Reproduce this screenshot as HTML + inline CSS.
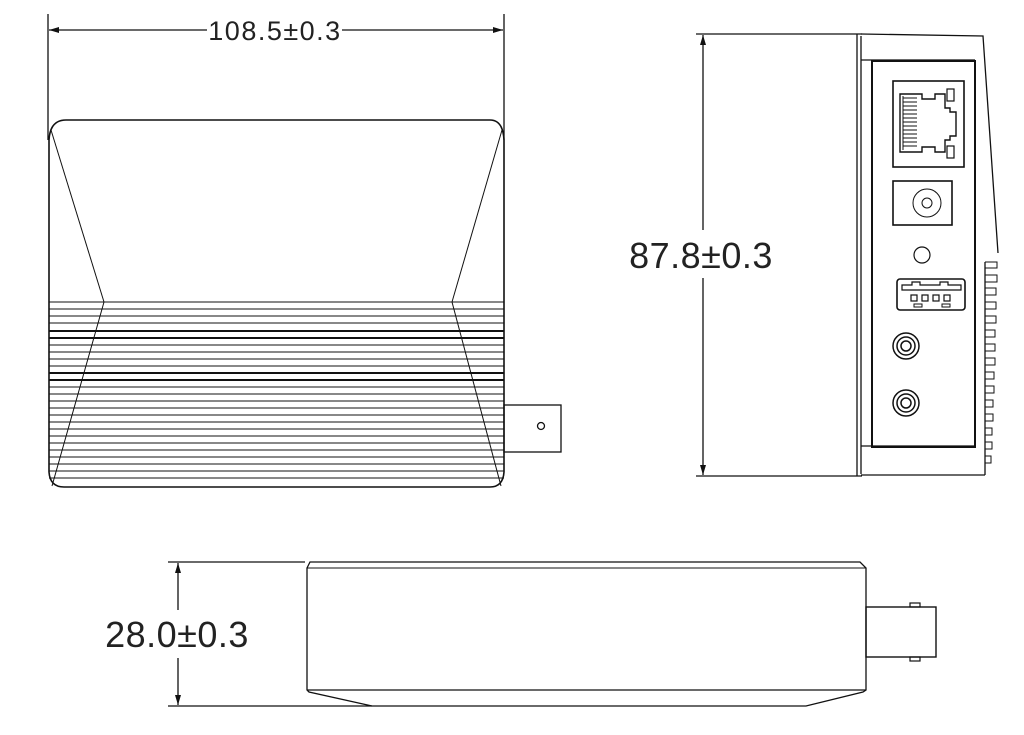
<!DOCTYPE html>
<html><head><meta charset="utf-8"><style>
html,body{margin:0;padding:0;background:#fff;}
svg{display:block;}
text{font-family:"Liberation Sans",sans-serif;fill:#222;}
</style></head><body>
<svg width="1024" height="735" viewBox="0 0 1024 735" xmlns="http://www.w3.org/2000/svg">
<defs>
<marker id="ar" viewBox="0 0 10 6" refX="10" refY="3" markerWidth="10" markerHeight="6" orient="auto-start-reverse" markerUnits="userSpaceOnUse">
<path d="M0,0 L10,3 L0,6 Z" fill="#111"/></marker>
</defs>
<g stroke="#111" fill="none" stroke-width="1.3">
<line x1="48" y1="14" x2="48" y2="140"/>
<line x1="504" y1="14" x2="504" y2="140"/>
<line x1="49" y1="30" x2="207" y2="30" marker-start="url(#ar)"/>
<line x1="342" y1="30" x2="503" y2="30" marker-end="url(#ar)"/>
<path d="M49,140 Q50,120 66,120 L490,120 Q503,120 504,140 L504,472 Q503,487 490,487 L64,487 Q50,487 49,472 Z" stroke-width="1.6"/>
<line x1="51" y1="130" x2="104" y2="302" stroke-width="1"/>
<line x1="502" y1="130" x2="452" y2="302" stroke-width="1"/>
<line x1="104" y1="302" x2="52" y2="486" stroke-width="1"/>
<line x1="452" y1="302" x2="501" y2="486" stroke-width="1"/>
<g stroke-width="1">
<line x1="49" y1="302" x2="504" y2="302"/>
<line x1="49" y1="309" x2="504" y2="309"/>
<line x1="49" y1="316" x2="504" y2="316"/>
<line x1="49" y1="323" x2="504" y2="323"/>
<line x1="49" y1="331" x2="504" y2="331" stroke-width="2"/>
<line x1="49" y1="338" x2="504" y2="338" stroke-width="2"/>
<line x1="49" y1="345" x2="504" y2="345"/>
<line x1="49" y1="352" x2="504" y2="352"/>
<line x1="49" y1="359" x2="504" y2="359"/>
<line x1="49" y1="366" x2="504" y2="366"/>
<line x1="49" y1="373" x2="504" y2="373" stroke-width="2"/>
<line x1="49" y1="380" x2="504" y2="380" stroke-width="2"/>
<line x1="49" y1="387" x2="504" y2="387"/>
<line x1="49" y1="394" x2="504" y2="394"/>
<line x1="49" y1="401" x2="504" y2="401"/>
<line x1="49" y1="408" x2="504" y2="408"/>
<line x1="49" y1="415" x2="504" y2="415"/>
<line x1="49" y1="422" x2="504" y2="422"/>
<line x1="49" y1="429" x2="504" y2="429"/>
<line x1="49" y1="436" x2="504" y2="436"/>
<line x1="49" y1="443" x2="504" y2="443"/>
<line x1="49" y1="450" x2="504" y2="450"/>
<line x1="49" y1="457" x2="504" y2="457"/>
<line x1="49" y1="464" x2="504" y2="464"/>
<line x1="49" y1="471" x2="504" y2="471"/>
<line x1="49" y1="478" x2="504" y2="478"/>
</g>
<rect x="504" y="405" width="57" height="47" stroke-width="1.3"/>
<circle cx="541" cy="426" r="3.5"/>

<line x1="696" y1="34" x2="862" y2="34"/>
<line x1="696" y1="476" x2="862" y2="476"/>
<line x1="703" y1="35" x2="703" y2="230" marker-start="url(#ar)"/>
<line x1="703" y1="278" x2="703" y2="475" marker-end="url(#ar)"/>
<line x1="857" y1="34" x2="857" y2="476"/>
<line x1="861" y1="36" x2="861" y2="474"/>
<path d="M861,34 L983,36 L998,253"/>
<line x1="861" y1="60" x2="975" y2="60"/>
<line x1="861" y1="446" x2="975" y2="446"/>
<line x1="861" y1="475" x2="985" y2="475"/>
<line x1="985" y1="262" x2="985" y2="475"/>
<rect x="872" y="61" width="103" height="386" stroke-width="2"/>
<g stroke-width="1">
<path d="M985,262 h12 v6 h-12 M985,275 h12 v7 h-12 M985,288 h11 v7 h-11 M985,302 h11 v7 h-11 M985,316 h11 v7 h-11 M985,330 h10 v7 h-10 M985,344 h10 v7 h-10 M985,358 h10 v7 h-10 M985,372 h9 v7 h-9 M985,386 h9 v7 h-9 M985,400 h8 v7 h-8 M985,414 h8 v7 h-8 M985,428 h7 v7 h-7 M985,442 h7 v7 h-7 M985,456 h6 v7 h-6"/>
</g>
<rect x="893" y="81" width="71" height="86" stroke-width="1.6"/>
<path d="M900,94 L922,94 L922,99 L935,99 L935,94 L945,94 L945,108 L950,108 L950,112 L956,112 L956,136 L950,136 L950,140 L945,140 L945,152 L935,152 L935,147 L922,147 L922,152 L900,152 Z" stroke-width="1.4"/>
<rect x="947" y="89" width="7" height="12" stroke-width="1.2"/>
<rect x="947" y="146" width="7" height="12" stroke-width="1.2"/>
<g stroke-width="1">
<path d="M903,98 h14 M903,102 h14 M903,106 h14 M903,110 h14 M903,114 h14 M903,118 h14 M903,122 h14 M903,126 h14 M903,130 h14 M903,134 h14 M903,138 h14 M903,142 h14 M903,146 h14"/>
<line x1="903" y1="96" x2="903" y2="150"/>
</g>
<rect x="893" y="181" width="59" height="44" stroke-width="1.6"/>
<circle cx="927" cy="203" r="14" stroke-width="1"/>
<circle cx="927" cy="203" r="5" stroke-width="1"/>
<circle cx="922" cy="255" r="8" stroke-width="1.2"/>
<rect x="897" y="279" width="68" height="31" rx="3" stroke-width="1.6"/>
<path d="M902,285 L912,285 L912,282 L920,282 L920,285 L940,285 L940,282 L948,282 L948,285 L961,285 L961,290 L902,290 Z" stroke-width="1.2"/>
<rect x="911" y="295" width="6" height="6" stroke-width="1.2"/>
<rect x="922" y="295" width="6" height="6" stroke-width="1.2"/>
<rect x="933" y="295" width="6" height="6" stroke-width="1.2"/>
<rect x="944" y="295" width="6" height="6" stroke-width="1.2"/>
<rect x="914" y="304" width="8" height="3" stroke-width="1"/>
<rect x="942" y="304" width="8" height="3" stroke-width="1"/>
<circle cx="906" cy="346" r="13" stroke-width="1.5"/>
<circle cx="906" cy="346" r="9" stroke-width="1.5"/>
<circle cx="906" cy="346" r="5" stroke-width="1.5"/>
<circle cx="906" cy="403" r="13" stroke-width="1.5"/>
<circle cx="906" cy="403" r="9" stroke-width="1.5"/>
<circle cx="906" cy="403" r="5" stroke-width="1.5"/>

<line x1="168" y1="562" x2="305" y2="562"/>
<line x1="168" y1="706" x2="372" y2="706"/>
<line x1="178" y1="563" x2="178" y2="610" marker-start="url(#ar)"/>
<line x1="178" y1="658" x2="178" y2="705" marker-end="url(#ar)"/>
<path d="M310,562 L860,562 L866,568 L866,690 L863,692 L806,706 L372,706 L309,692 L307,690 L307,568 Z" stroke-width="1.3"/>
<line x1="307" y1="568" x2="866" y2="568" stroke-width="1"/>
<line x1="307" y1="690" x2="866" y2="690" stroke-width="1.3"/>
<rect x="866" y="607" width="70" height="50" stroke-width="1.4"/>
<rect x="910" y="603" width="10" height="4" stroke-width="1.2"/>
<rect x="910" y="657" width="10" height="4" stroke-width="1.2"/>
</g>
<text x="275" y="40" font-size="27" letter-spacing="1.5" text-anchor="middle">108.5±0.3</text>
<text x="701" y="268" font-size="36" letter-spacing="0.5" text-anchor="middle">87.8±0.3</text>
<text x="177" y="647" font-size="36" letter-spacing="0.5" text-anchor="middle">28.0±0.3</text>
</svg>
</body></html>
